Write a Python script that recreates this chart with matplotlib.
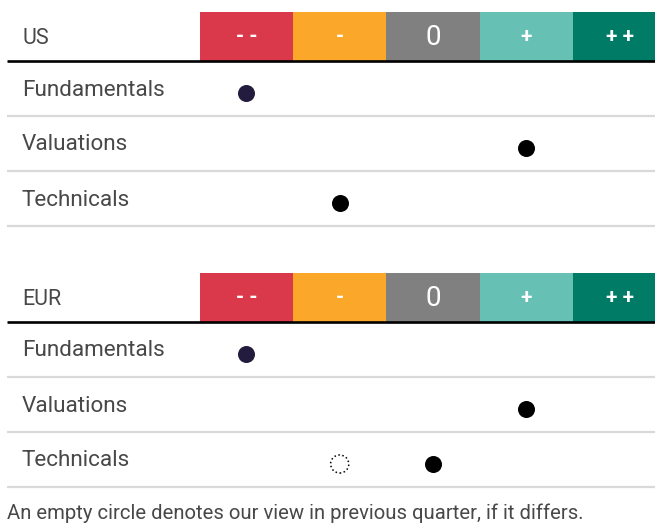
import matplotlib
matplotlib.use("Agg")
import matplotlib.pyplot as plt
from matplotlib.patches import Rectangle

# ---- data ----
regions = ["US", "EUR"]
factors = ["Fundamentals", "Valuations", "Technicals"]
scale_labels = ["- -", "-", "0", "+", "+ +"]
scale_values = [-2, -1, 0, 1, 2]
scale_colors = ["#D9394A", "#FBA82A", "#808080", "#66C0B3", "#007C66"]
current_us = [-2, 1, -1]
current_eur = [-2, 1, 0]
previous_us = [None, None, None]
previous_eur = [None, None, -1]
dot_colors = ["#231C3F", "#000000", "#000000"]
footnote = "An empty circle denotes our view in previous quarter, if it differs."

current = [current_us, current_eur]
previous = [previous_us, previous_eur]

# ---- layout (pixels) ----
W, H = 655, 524
band_px = 93.3
zero_px = 433
x_left = (0 - zero_px) / band_px
x_right = (W - zero_px) / band_px
label_x = (22 - zero_px) / band_px
line_x0 = (7 - zero_px) / band_px

panel_tops = [12, 273]
header_h = 48.5
row_h = 55

plt.rcParams['font.family'] = ['Roboto', 'DejaVu Sans']
fig = plt.figure(figsize=(W / 100, H / 100), dpi=100)
ax = fig.add_axes([0, 0, 1, 1])
ax.set_xlim(x_left, x_right)
ax.set_ylim(H, 0)
ax.axis("off")

txt_color = "#484848"
for p, region in enumerate(regions):
    top = panel_tops[p]
    hb = top + header_h
    # header bands
    for v, lab, col in zip(scale_values, scale_labels, scale_colors):
        ax.add_patch(Rectangle((v - 0.5, top), 1, header_h, facecolor=col,
                               edgecolor="none"))
        if lab == "0":
            ax.text(v, top + header_h / 2 + 1, lab, color="white", fontsize=20,
                    ha="center", va="center")
        else:
            ax.text(v, top + header_h / 2, lab, color="white", fontsize=15,
                    fontweight="bold", ha="center", va="center")
    ax.text(label_x, top + header_h / 2 + 2, region, fontsize=15.5,
            color=txt_color, ha="left", va="center")
    ax.plot([line_x0, x_right], [hb, hb], color="black", lw=1.9,
            solid_capstyle="butt")
    for i, f in enumerate(factors):
        yc = hb + (i + 0.5) * row_h
        yl = hb + (i + 1) * row_h
        ax.plot([line_x0, x_right], [yl, yl], color="#d9d9d9", lw=1.6,
                solid_capstyle="butt")
        ax.text(label_x, yc + 2, f, fontsize=16.2, color=txt_color,
                ha="left", va="center")
        ax.scatter([current[p][i]], [yc + 5], s=150, color=dot_colors[i],
                   linewidths=0, zorder=3)
        if previous[p][i] is not None:
            ax.scatter([previous[p][i]], [yc + 5], s=170, facecolors="none",
                       edgecolors="black", linewidths=1.1, linestyles=":",
                       zorder=3)

ax.text(line_x0, 519, footnote, fontsize=14.6, color=txt_color,
        ha="left", va="baseline")

fig.savefig("out.png", dpi=100)
